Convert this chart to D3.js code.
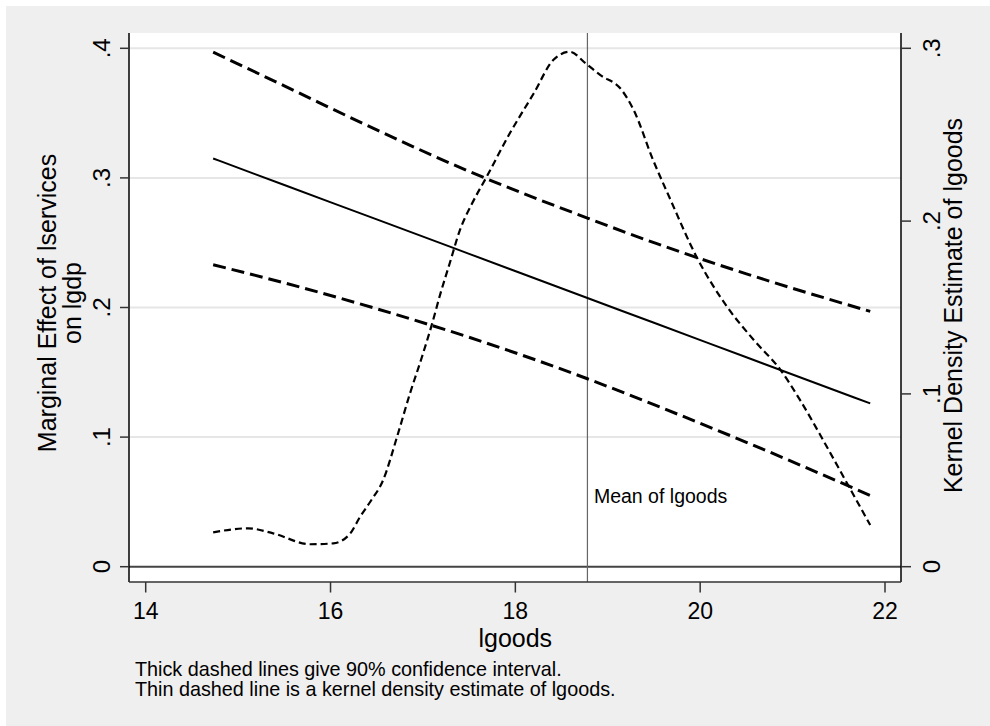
<!DOCTYPE html>
<html>
<head>
<meta charset="utf-8">
<script src="https://cdn.jsdelivr.net/npm/d3@7"></script>
<style>
  html, body { margin: 0; padding: 0; background: #ffffff; }
  svg { display: block; }
  text { font-family: "Liberation Sans", Arial, Helvetica, sans-serif; fill: #000; }
</style>
</head>
<body>
<svg id="chart" width="990" height="726"></svg>
<script>
// ---------- data ----------
const xTicks = [14, 16, 18, 20, 22];
const yLeftTicks = [0, 0.1, 0.2, 0.3, 0.4];
const yRightTicks = [0, 0.1, 0.2, 0.3];
const gridTicks = [0.1, 0.2, 0.3, 0.4];

// marginal effect and 90% CI
const ciX    = [14.73, 15.5, 16.5, 17.5, 18.78, 19.5, 20.5, 21.84];
const effect = [0.315, 0.2945, 0.268, 0.2414, 0.2073, 0.1882, 0.1616, 0.126];
const upper  = [0.397, 0.371, 0.337, 0.305, 0.269, 0.250, 0.226, 0.197];
const lower  = [0.233, 0.219, 0.199, 0.177, 0.145, 0.125, 0.096, 0.055];

// kernel density of lgoods (right axis)
const densX = [14.73, 15.11, 15.38, 15.78, 16.03, 16.21, 16.32, 16.43, 16.57, 16.72, 16.86, 16.99, 17.10, 17.19, 17.29, 17.40, 17.53, 17.69, 17.94, 18.20, 18.41, 18.59, 18.76, 18.92, 19.15, 19.28, 19.49, 19.68, 19.96, 20.29, 20.58, 20.87, 21.08, 21.33, 21.55, 21.73, 21.84];
const densY = [0.0199, 0.0222, 0.0193, 0.0130, 0.0135, 0.0190, 0.0289, 0.0376, 0.0502, 0.0752, 0.1003, 0.1215, 0.1408, 0.1582, 0.1756, 0.1948, 0.2100, 0.2257, 0.2508, 0.2740, 0.2932, 0.2980, 0.2913, 0.2845, 0.2759, 0.2643, 0.2354, 0.2122, 0.1794, 0.1505, 0.1312, 0.1138, 0.0965, 0.0733, 0.0521, 0.0347, 0.0241];

const meanX = 18.78;
const meanLabel = "Mean of lgoods";
const xTitle = "lgoods";
const yLeftTitle = ["Marginal Effect of lservices", "on lgdp"];
const yRightTitle = "Kernel Density Estimate of lgoods";
const notes = ["Thick dashed lines give 90% confidence interval.",
               "Thin dashed line is a kernel density estimate of lgoods."];

// ---------- layout ----------
const svg = d3.select("#chart");
const plot = { left: 129, right: 901, top: 33, bottom: 582 };

const x = d3.scaleLinear().domain([14, 22]).range([145.7, 885]);
const yL = d3.scaleLinear().domain([0, 0.4]).range([566.7, 48.3]);
const yR = d3.scaleLinear().domain([0, 0.3]).range([566.7, 48.3]);

const fmt = d => d === 0 ? "0" : d3.format(".1f")(d).replace(/^0/, "");

// background
svg.append("rect").attr("x", 6).attr("y", 6).attr("width", 984).attr("height", 720).attr("fill", "#efefef");
svg.append("rect").attr("x", plot.left).attr("y", plot.top)
  .attr("width", plot.right - plot.left).attr("height", plot.bottom - plot.top).attr("fill", "#ffffff");

// gridlines
svg.append("g").selectAll("line").data(gridTicks).join("line")
  .attr("x1", plot.left).attr("x2", plot.right)
  .attr("y1", d => yL(d)).attr("y2", d => yL(d))
  .attr("stroke", "#e6e6e6").attr("stroke-width", 2);

// zero line
svg.append("line").attr("x1", plot.left).attr("x2", plot.right)
  .attr("y1", yL(0)).attr("y2", yL(0))
  .attr("stroke", "#444").attr("stroke-width", 2);

// mean line
svg.append("line").attr("x1", x(meanX)).attr("x2", x(meanX))
  .attr("y1", plot.top).attr("y2", plot.bottom)
  .attr("stroke", "#666").attr("stroke-width", 1.2);

svg.append("text").attr("x", x(meanX) + 6.5).attr("y", 503)
  .attr("font-size", 19.5).text(meanLabel);

// lines
const lineL = (vals) => d3.line().x((d, i) => x(ciX[i])).y(d => yL(d)).curve(d3.curveMonotoneX)(vals);

svg.append("path").attr("d", lineL(upper)).attr("fill", "none")
  .attr("stroke", "#000").attr("stroke-width", 3).attr("stroke-dasharray", "13,6");
svg.append("path").attr("d", lineL(lower)).attr("fill", "none")
  .attr("stroke", "#000").attr("stroke-width", 3).attr("stroke-dasharray", "13,6");
svg.append("path").attr("d", lineL(effect)).attr("fill", "none")
  .attr("stroke", "#000").attr("stroke-width", 2);

const densLine = d3.line().x((d, i) => x(densX[i])).y(d => yR(d)).curve(d3.curveMonotoneX);
svg.append("path").attr("d", densLine(densY)).attr("fill", "none")
  .attr("stroke", "#000").attr("stroke-width", 2.2).attr("stroke-dasharray", "7,4");

// axis lines
svg.append("line").attr("x1", plot.left).attr("x2", plot.left).attr("y1", plot.top).attr("y2", plot.bottom)
  .attr("stroke", "#000").attr("stroke-width", 1.5);
svg.append("line").attr("x1", plot.right).attr("x2", plot.right).attr("y1", plot.top).attr("y2", plot.bottom)
  .attr("stroke", "#000").attr("stroke-width", 1.5);
svg.append("line").attr("x1", plot.left).attr("x2", plot.right).attr("y1", plot.bottom).attr("y2", plot.bottom)
  .attr("stroke", "#333").attr("stroke-width", 1.5);

// ticks
svg.append("g").selectAll("line").data(yLeftTicks).join("line")
  .attr("x1", 120).attr("x2", plot.left).attr("y1", d => yL(d)).attr("y2", d => yL(d))
  .attr("stroke", "#333").attr("stroke-width", 1.5);
svg.append("g").selectAll("line").data(yRightTicks).join("line")
  .attr("x1", plot.right).attr("x2", 911).attr("y1", d => yR(d)).attr("y2", d => yR(d))
  .attr("stroke", "#333").attr("stroke-width", 1.5);
svg.append("g").selectAll("line").data(xTicks).join("line")
  .attr("x1", d => x(d)).attr("x2", d => x(d)).attr("y1", plot.bottom).attr("y2", 592.5)
  .attr("stroke", "#333").attr("stroke-width", 1.5);

// tick labels
svg.append("g").selectAll("text").data(yLeftTicks).join("text")
  .attr("transform", d => `translate(110,${yL(d)}) rotate(-90)`)
  .attr("text-anchor", "middle").attr("font-size", 24).text(fmt);
svg.append("g").selectAll("text").data(yRightTicks).join("text")
  .attr("transform", d => `translate(940,${yR(d)}) rotate(-90)`)
  .attr("text-anchor", "middle").attr("font-size", 24).text(fmt);
svg.append("g").selectAll("text").data(xTicks).join("text")
  .attr("x", d => x(d)).attr("y", 619)
  .attr("text-anchor", "middle").attr("font-size", 23).text(d => d);

// titles
svg.append("text").attr("x", 515.3).attr("y", 647).attr("text-anchor", "middle")
  .attr("font-size", 25).text(xTitle);
svg.append("g").selectAll("text").data(yLeftTitle).join("text")
  .attr("transform", (d, i) => `translate(${56 + i * 25},303) rotate(-90)`)
  .attr("text-anchor", "middle").attr("font-size", 25).text(d => d);
svg.append("text").attr("transform", "translate(962,305.5) rotate(-90)")
  .attr("text-anchor", "middle").attr("font-size", 25).text(yRightTitle);

// notes
svg.append("g").selectAll("text").data(notes).join("text")
  .attr("x", 135).attr("y", (d, i) => 676 + i * 20)
  .attr("font-size", 19.8).text(d => d);
</script>
</body>
</html>
